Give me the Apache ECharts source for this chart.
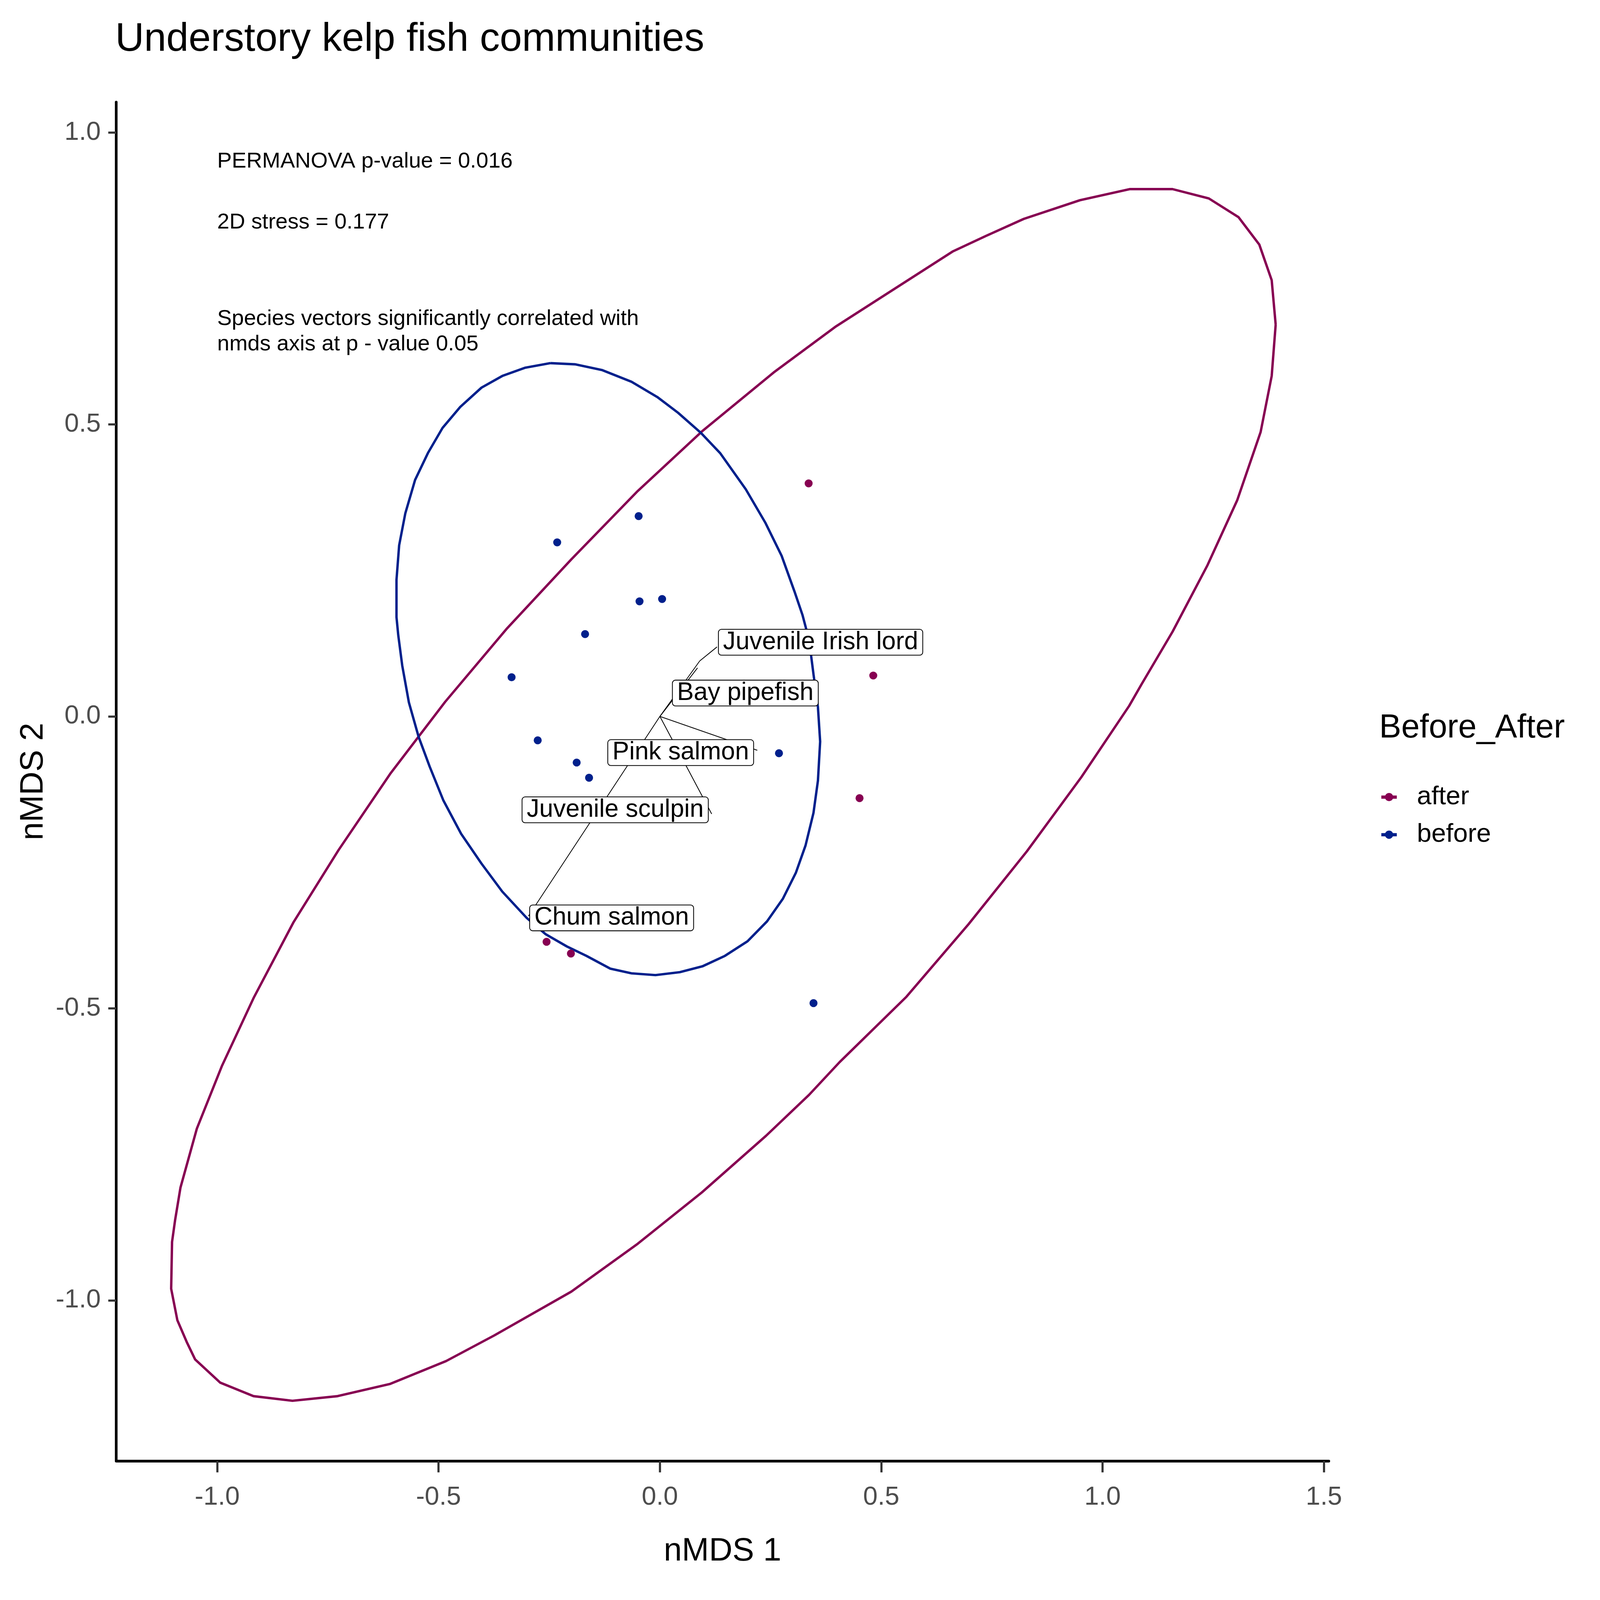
<!DOCTYPE html>
<html>
<head>
<meta charset="utf-8">
<title>Understory kelp fish communities</title>
<script src="https://cdn.jsdelivr.net/npm/echarts@6/dist/echarts.min.js"></script>
<style>
  html, body { margin: 0; padding: 0; width: 100%; height: 100%; overflow: hidden; background: #fff; }
  #chart { width: 100vw; height: 100vh; }
</style>
</head>
<body>
<div id="chart"></div>
<script>
// axis ticks
const xTicks = [-1.0, -0.5, 0.0, 0.5, 1.0, 1.5];
const yTicks = [-1.0, -0.5, 0.0, 0.5, 1.0];

// nmds site scores
const afterX = [0.336, 0.482, 0.451, -0.256, -0.201];
const afterY = [0.399, 0.070, -0.140, -0.386, -0.406];
const beforeX = [-0.232, -0.048, -0.046, 0.005, -0.169, -0.335, -0.276, -0.188, -0.160, 0.269, 0.347];
const beforeY = [0.298, 0.343, 0.197, 0.201, 0.141, 0.067, -0.041, -0.079, -0.105, -0.063, -0.491];

// ellipse outlines
const afterEllX = [1.391, 1.382, 1.354, 1.307, 1.240, 1.158, 1.062, 0.949, 0.822, 0.737, 0.661, 0.396, 0.257, 0.095,
  -0.050, -0.200, -0.345, -0.485, -0.608, -0.726, -0.828, -0.917, -0.989, -1.046, -1.083, -1.095, -1.102, -1.104,
  -1.090, -1.069, -1.050, -0.993, -0.918, -0.830, -0.728, -0.609, -0.483, -0.374, -0.200, -0.050, 0.095, 0.240,
  0.337, 0.406, 0.557, 0.697, 0.829, 0.952, 1.060, 1.088, 1.158, 1.237, 1.304, 1.357, 1.382];
const afterEllY = [0.671, 0.747, 0.808, 0.855, 0.887, 0.903, 0.903, 0.884, 0.852, 0.823, 0.796, 0.667, 0.589, 0.488,
  0.386, 0.269, 0.151, 0.025, -0.097, -0.229, -0.353, -0.481, -0.598, -0.706, -0.807, -0.862, -0.900, -0.980,
  -1.034, -1.071, -1.101, -1.141, -1.164, -1.172, -1.164, -1.143, -1.104, -1.060, -0.985, -0.903, -0.815, -0.718,
  -0.648, -0.592, -0.480, -0.356, -0.231, -0.104, 0.018, 0.055, 0.145, 0.259, 0.370, 0.487, 0.583];
const beforeEllX = [-0.247, -0.192, -0.130, -0.064, -0.006, 0.041, 0.092, 0.136, 0.194, 0.238, 0.275, 0.304, 0.322,
  0.337, 0.347, 0.357, 0.362, 0.357, 0.347, 0.329, 0.307, 0.278, 0.242, 0.198, 0.147, 0.096, 0.045, -0.010, -0.064,
  -0.112, -0.166, -0.210, -0.258, -0.301, -0.356, -0.403, -0.449, -0.489, -0.520, -0.545, -0.567, -0.582, -0.591,
  -0.595, -0.595, -0.589, -0.575, -0.553, -0.524, -0.491, -0.451, -0.403, -0.356, -0.305];
const beforeEllY = [0.605, 0.603, 0.593, 0.573, 0.547, 0.520, 0.486, 0.451, 0.389, 0.332, 0.275, 0.214, 0.174,
  0.131, 0.072, 0.016, -0.043, -0.110, -0.165, -0.221, -0.268, -0.312, -0.351, -0.385, -0.410, -0.428, -0.438, -0.443,
  -0.440, -0.432, -0.410, -0.394, -0.373, -0.345, -0.300, -0.252, -0.201, -0.144, -0.086, -0.035, 0.024, 0.087, 0.139,
  0.170, 0.234, 0.293, 0.348, 0.405, 0.451, 0.494, 0.530, 0.563, 0.583, 0.597];

// species vectors and their labels
const vectorNames = ['Juvenile Irish lord', 'Bay pipefish', 'Pink salmon', 'Juvenile sculpin', 'Chum salmon'];
const vectorX = [0.090, 0.085, 0.220, 0.117, -0.297];
const vectorY = [0.095, 0.083, -0.058, -0.167, -0.342];
const labelX = [0.363, 0.193, 0.047, -0.101, -0.109];
const labelY = [0.127, 0.040, -0.062, -0.160, -0.345];
const jilLinkEnd = [0.129, 0.119];

// text annotations
const annoText = ['PERMANOVA p-value = 0.016', '2D stress = 0.177',
  'Species vectors significantly correlated with\nnmds axis at p - value 0.05'];
const annoX = [-1.0, -1.0, -1.0];
const annoY = [0.950, 0.846, 0.659];

const purple = '#870052';
const blue = '#00208C';
const font = 'Liberation Sans';

function pairs(xs, ys) {
  return xs.map((x, i) => [x, ys[i]]);
}
function closed(xs, ys) {
  const p = pairs(xs, ys);
  p.push(p[0]);
  return p;
}

const el = document.getElementById('chart');
const W = el.clientWidth || 6000;
const H = el.clientHeight || 4200;
// layout was measured on a 6000 x 4200 page, scale to whatever we got
const sx = W / 6000, sy = H / 4200, s = Math.min(sx, sy);
const px = v => v * sx;
const py = v => v * sy;
const f = v => v * s;

const keyIcon = 'path://M0,9.5 L58,9.5 L58,21.5 L0,21.5 Z M13.5,15.5 A15.5,15.5 0 1,1 44.5,15.5 A15.5,15.5 0 1,1 13.5,15.5 Z';

const vectorLines = vectorX.map((x, i) => ({ coords: [[0, 0], [x, vectorY[i]]] }));
vectorLines.push({ coords: [[vectorX[0], vectorY[0]], jilLinkEnd] });

const chart = echarts.init(el);
const option = {
  animation: false,
  backgroundColor: '#fff',
  textStyle: { fontFamily: font },
  title: [
    {
      text: 'Understory kelp fish communities',
      left: px(432), top: py(52), padding: 0,
      textStyle: { fontSize: f(150), fontWeight: 'normal', color: '#000', fontFamily: font }
    },
    {
      text: 'Before_After',
      left: px(5172), top: py(1868), padding: 0,
      textStyle: { fontSize: f(124), fontWeight: 'normal', color: '#000', fontFamily: font }
    }
  ],
  legend: {
    orient: 'vertical',
    left: px(5180), top: py(2058),
    padding: 0,
    itemWidth: f(58), itemHeight: f(31), itemGap: py(30),
    selectedMode: false,
    textStyle: { fontSize: f(98), lineHeight: py(60), padding: [0, 0, 0, px(68)], color: '#000', fontFamily: font },
    data: [
      { name: 'after', icon: keyIcon, itemStyle: { color: purple, opacity: 1 } },
      { name: 'before', icon: keyIcon, itemStyle: { color: blue, opacity: 1 } }
    ]
  },
  grid: { left: px(436), right: px(1017), top: py(268), bottom: py(365), containLabel: false },
  xAxis: {
    type: 'value',
    min: -1.228, max: 1.511,
    name: 'nMDS 1', nameLocation: 'middle', nameGap: py(195),
    nameTextStyle: { fontSize: f(122), color: '#000', fontFamily: font },
    axisLine: { show: true, onZero: false, lineStyle: { color: '#000', width: f(10) } },
    axisTick: { show: true, length: py(30), customValues: xTicks, lineStyle: { color: '#333333', width: f(8) } },
    axisLabel: {
      customValues: xTicks, margin: py(62), fontSize: f(98), color: '#4D4D4D', fontFamily: font,
      formatter: v => v.toFixed(1)
    },
    splitLine: { show: false }
  },
  yAxis: {
    type: 'value',
    min: -1.275, max: 1.052,
    name: 'nMDS 2', nameLocation: 'middle', nameGap: px(249), nameRotate: 90,
    nameTextStyle: { fontSize: f(122), color: '#000', fontFamily: font },
    axisLine: { show: true, onZero: false, lineStyle: { color: '#000', width: f(10) } },
    axisTick: { show: true, length: px(30), customValues: yTicks, lineStyle: { color: '#333333', width: f(8) } },
    axisLabel: {
      customValues: yTicks, margin: px(58), fontSize: f(98), color: '#4D4D4D', fontFamily: font,
      formatter: v => v.toFixed(1)
    },
    splitLine: { show: false }
  },
  series: [
    {
      name: 'after', type: 'line', z: 2, symbol: 'none', silent: true,
      lineStyle: { color: purple, width: f(9) }, itemStyle: { color: purple },
      data: closed(afterEllX, afterEllY)
    },
    {
      name: 'before', type: 'line', z: 2, symbol: 'none', silent: true,
      lineStyle: { color: blue, width: f(9) }, itemStyle: { color: blue },
      data: closed(beforeEllX, beforeEllY)
    },
    {
      name: 'after', type: 'scatter', z: 3, symbolSize: f(30), silent: true,
      itemStyle: { color: purple, opacity: 1 },
      data: pairs(afterX, afterY)
    },
    {
      name: 'before', type: 'scatter', z: 3, symbolSize: f(30), silent: true,
      itemStyle: { color: blue, opacity: 1 },
      data: pairs(beforeX, beforeY)
    },
    {
      name: 'vectors', type: 'lines', coordinateSystem: 'cartesian2d', z: 4, silent: true,
      lineStyle: { color: '#000', width: f(3), opacity: 1 },
      data: vectorLines
    },
    {
      name: 'species', type: 'scatter', z: 10, symbolSize: 0, silent: true,
      itemStyle: { opacity: 1 },
      data: labelX.map((x, i) => ({ name: vectorNames[i], value: [x, labelY[i]] })),
      label: {
        show: true, position: 'inside', formatter: '{b}',
        fontSize: f(94), lineHeight: f(80), color: '#000', fontFamily: font,
        backgroundColor: '#fff', borderColor: '#000', borderWidth: f(3), borderRadius: f(10),
        padding: [f(7), f(16)]
      }
    },
    {
      name: 'notes', type: 'scatter', z: 10, symbolSize: 0, silent: true,
      itemStyle: { opacity: 1 },
      data: annoText.map((t, i) => ({ name: t, value: [annoX[i], annoY[i]] })),
      label: {
        show: true, position: 'inside', align: 'left', verticalAlign: 'middle',
        formatter: '{b}', fontSize: f(82), lineHeight: f(96), color: '#000', fontFamily: font
      }
    }
  ]
};
chart.setOption(option);
</script>
</body>
</html>
